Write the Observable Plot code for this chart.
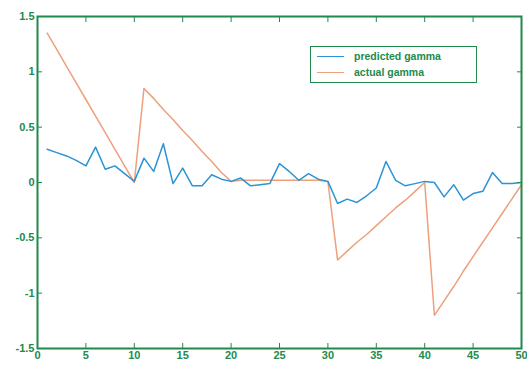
<!DOCTYPE html>
<html>
<head>
<meta charset="utf-8">
<script src="https://cdn.jsdelivr.net/npm/d3@7"></script>
<script src="https://cdn.jsdelivr.net/npm/@observablehq/plot@0.6"></script>
<style>
  html, body { margin: 0; padding: 0; background: #fff; }
  #wrap { position: relative; width: 527px; height: 366px; }
  #legend {
    position: absolute; left: 310px; top: 46px; width: 167px; height: 37px;
    border: 1.5px solid #1e8a4c; background: #fff; box-sizing: border-box;
    font: bold 10.5px "Liberation Sans", Arial, sans-serif; color: #1e8a4c;
  }
  .row { position: absolute; left: 6px; display: flex; align-items: center; }
  .sw { width: 27px; height: 0; border-top: 1.5px solid; margin-right: 10px; }
</style>
</head>
<body>
<div id="wrap">
  <div id="legend">
    <div class="row" style="top:3px"><span class="sw" style="border-color:#2b93d6"></span>predicted gamma</div>
    <div class="row" style="top:19px"><span class="sw" style="border-color:#eda07c"></span>actual gamma</div>
  </div>
</div>
<script>
const xs = d3.range(1, 51);
const predicted = [0.30, 0.27, 0.24, 0.20, 0.15, 0.32, 0.12, 0.15, 0.08, 0.01,
                   0.22, 0.10, 0.35, -0.01, 0.13, -0.03, -0.03, 0.07, 0.03, 0.01,
                   0.04, -0.03, -0.02, -0.01, 0.17, 0.10, 0.02, 0.08, 0.03, 0.01,
                   -0.19, -0.15, -0.18, -0.12, -0.05, 0.19, 0.02, -0.03, -0.01, 0.01,
                   0.00, -0.13, -0.02, -0.16, -0.10, -0.08, 0.09, -0.01, -0.01, 0.00];
const actual = [1.35, 1.20, 1.05, 0.90, 0.75, 0.60, 0.45, 0.30, 0.15, 0.00,
                0.85, 0.76, 0.66, 0.57, 0.47, 0.38, 0.28, 0.19, 0.09, 0.01,
                0.02, 0.02, 0.02, 0.02, 0.02, 0.02, 0.02, 0.02, 0.02, 0.01,
                -0.70, -0.62, -0.54, -0.47, -0.39, -0.31, -0.23, -0.16, -0.08, 0.00,
                -1.20, -1.07, -0.94, -0.80, -0.67, -0.54, -0.41, -0.28, -0.15, -0.02];
const xTicks = [0, 5, 10, 15, 20, 25, 30, 35, 40, 45, 50];
const yTicks = [-1.5, -1, -0.5, 0, 0.5, 1, 1.5];

const green = "#1e8a4c";
const predData = xs.map((x, i) => ({x, y: predicted[i]}));
const actData = xs.map((x, i) => ({x, y: actual[i]}));

const chart = Plot.plot({
  width: 527, height: 366,
  marginLeft: 37, marginRight: 6, marginTop: 16, marginBottom: 18,
  style: {fontFamily: "'Liberation Sans', Arial, sans-serif", fontSize: "11px", fontWeight: "bold", background: "#fff"},
  x: {domain: [0, 50]},
  y: {domain: [-1.5, 1.5]},
  marks: [
    Plot.line(actData, {x: "x", y: "y", stroke: "#eda07c", strokeWidth: 1.5}),
    Plot.line(predData, {x: "x", y: "y", stroke: "#2b93d6", strokeWidth: 1.5}),
    Plot.frame({stroke: green, strokeWidth: 2}),
    Plot.axisX({anchor: "bottom", ticks: xTicks, tickSize: -5, tickPadding: 8, stroke: green, fill: green, label: null, tickFormat: d => String(d)}),
    Plot.axisX({anchor: "top", ticks: xTicks, tickSize: -5, stroke: green, label: null, tickFormat: () => ""}),
    Plot.axisY({anchor: "left", ticks: yTicks, tickSize: -5, tickPadding: 8, stroke: green, fill: green, label: null, tickFormat: d => String(d)}),
    Plot.axisY({anchor: "right", ticks: yTicks, tickSize: -5, stroke: green, label: null, tickFormat: () => ""})
  ]
});
document.getElementById("wrap").prepend(chart);
chart.style.position = "absolute";
chart.style.left = "0";
chart.style.top = "0";
</script>
</body>
</html>
